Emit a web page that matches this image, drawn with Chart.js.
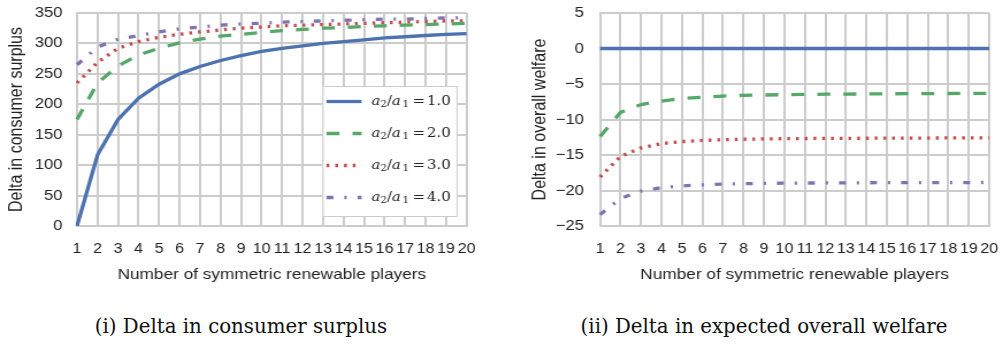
<!DOCTYPE html>
<html>
<head>
<meta charset="utf-8">
<script src="https://cdn.jsdelivr.net/npm/chart.js@4"></script>
<style>
  html, body { margin: 0; padding: 0; background: #fff; }
  body { width: 1004px; height: 345px; position: relative; overflow: hidden; }
  /* the source figure is stretched sideways, so the charts are too */
  .box { position: absolute; top: 0; transform: scaleX(1.15); transform-origin: 0 0; }
  .box canvas { display: block; }
  .caption { position: absolute; top: 315px; line-height: 24px; font-family: "DejaVu Serif", serif; font-size: 19.8px; color: #111; white-space: nowrap; transform: translateX(-50%); }
</style>
</head>
<body>
<div class="box" style="left:0"><canvas id="csChart" width="417" height="290"></canvas></div>
<div class="box" style="left:520px"><canvas id="owChart" width="421" height="290"></canvas></div>
<div class="caption" style="left:241px">(i) Delta in consumer surplus</div>
<div class="caption" style="left:764px">(ii) Delta in expected overall welfare</div>
<script>
const players = [1, 2, 3, 4, 5, 6, 7, 8, 9, 10, 11, 12, 13, 14, 15, 16, 17, 18, 19, 20];
const ratios = ["1.0", "2.0", "3.0", "4.0"];

// delta in consumer surplus
const cs1 = [0, 117, 175, 210, 233, 250, 262, 272, 280, 287, 292, 296, 300, 303, 306, 309, 311, 313, 315, 316];
const cs2 = [175, 235, 263, 281, 292, 301, 307, 312, 315, 318, 321, 323, 325, 326, 328, 329, 330, 331, 332, 333];
const cs3 = [235, 269, 292, 303, 310, 315, 319, 322, 325, 327, 329, 330, 331, 332, 333, 334, 335, 336, 337, 337];
const cs4 = [265, 294, 307, 313, 319, 324, 327, 330, 332, 333, 335, 336, 337, 338, 339, 340, 340, 341, 342, 342];

// delta in overall welfare
const ow1 = [0, 0, 0, 0, 0, 0, 0, 0, 0, 0, 0, 0, 0, 0, 0, 0, 0, 0, 0, 0];
const ow2 = [-12.4, -9.0, -7.9, -7.4, -7.05, -6.85, -6.7, -6.6, -6.55, -6.5, -6.47, -6.44, -6.42, -6.4, -6.38, -6.36, -6.35, -6.34, -6.33, -6.32];
const ow3 = [-18.1, -15.2, -14.0, -13.4, -13.1, -12.95, -12.85, -12.78, -12.73, -12.7, -12.68, -12.66, -12.65, -12.64, -12.63, -12.62, -12.61, -12.6, -12.6, -12.6];
const ow4 = [-23.4, -21.1, -20.1, -19.6, -19.35, -19.2, -19.1, -19.05, -19.0, -18.97, -18.95, -18.93, -18.92, -18.91, -18.9, -18.9, -18.89, -18.88, -18.88, -18.87];

const colors = ["#4c72b0", "#55a868", "#c44e52", "#8172b2"];
const dashes = [[], [11.3, 11.3], [2.5, 5.1], [6, 9.5, 2, 9.5]];
const gridColor = "#cccccc";
const textColor = "#222222";

function makeDatasets(series) {
    return series.map((vals, i) => ({
        label: "a2/a1 = " + ratios[i],
        data: vals,
        borderColor: colors[i],
        borderWidth: 3.3,
        borderDash: dashes[i],
        borderCapStyle: "butt",
        pointRadius: 0,
        tension: 0,
        fill: false
    }));
}

// legend drawn inside the plot, like the matplotlib one
const innerLegend = {
    id: "innerLegend",
    afterDraw(chart) {
        if (!chart.options.plugins.innerLegend.show) return;
        const ctx = chart.ctx;
        const area = chart.chartArea;
        const w = 117.5, h = 131;
        const bx = area.right - 7.8 - w, by = area.bottom - 9 - h;
        ctx.save();
        ctx.fillStyle = "#fff";
        ctx.strokeStyle = "#cccccc";
        ctx.lineWidth = 1;
        ctx.fillRect(bx, by, w, h);
        ctx.strokeRect(bx + 0.5, by + 0.5, w - 1, h - 1);
        chart.data.datasets.forEach((ds, i) => {
            const y = by + 15.5 + i * 32;
            ctx.beginPath();
            ctx.setLineDash(ds.borderDash);
            ctx.lineCap = "butt";
            ctx.strokeStyle = ds.borderColor;
            ctx.lineWidth = 3.3;
            ctx.moveTo(bx + 3.5, y);
            ctx.lineTo(bx + 34, y);
            ctx.stroke();
            ctx.setLineDash([]);
            drawRatio(ctx, bx + 42.6, y, ratios[i]);
        });
        ctx.restore();
    }
};

function drawRatio(ctx, x, y, val) {
    const big = '13px "DejaVu Serif"';
    const bigIt = 'italic 13px "DejaVu Serif"';
    const small = '9px "DejaVu Serif"';
    ctx.fillStyle = "#222";
    ctx.textBaseline = "middle";
    ctx.textAlign = "left";
    const parts = [
        [bigIt, "a", 0, 0], [small, "2", 3, 0], [big, "/", 0, 0],
        [bigIt, "a", 0, 0], [small, "1", 3, 1.5], [big, "=", 0, 1.5], [big, val, 0, 0]
    ];
    let cx = x;
    parts.forEach(([font, txt, dy, gap]) => {
        ctx.font = font;
        cx += gap;
        ctx.fillText(txt, cx, y + dy);
        cx += ctx.measureText(txt).width + gap;
    });
}

function makeChart(id, series, yMin, yMax, yStep, yTitle, yWidth, yPad, titlePad, rightPad, legend) {
    const ctx = document.getElementById(id).getContext("2d");
    return new Chart(ctx, {
        type: "line",
        data: { labels: players, datasets: makeDatasets(series) },
        options: {
            responsive: false,
            devicePixelRatio: 1,
            animation: false,
            layout: { padding: { top: 13, right: rightPad, left: 0, bottom: 0 } },
            plugins: {
                legend: { display: false },
                tooltip: { enabled: false },
                innerLegend: { show: legend }
            },
            scales: {
                x: {
                    grid: { color: gridColor, lineWidth: 2, drawTicks: false },
                    border: { color: gridColor, width: 2 },
                    ticks: {
                        autoSkip: false, maxRotation: 0, padding: 15,
                        color: textColor, font: { family: "Liberation Sans", size: 14 }
                    },
                    title: {
                        display: true, text: "Number of symmetric renewable players",
                        color: textColor, font: { family: "Liberation Sans", size: 15 },
                        padding: { top: 0, bottom: 6.5 }
                    },
                    // fixed size, and no extra room for the edge labels
                    afterFit(scale) {
                        scale.height = 64;
                        scale.paddingLeft = 0;
                        scale.paddingRight = 0;
                    }
                },
                y: {
                    min: yMin, max: yMax,
                    grid: { color: gridColor, lineWidth: 2, drawTicks: false },
                    border: { color: gridColor, width: 2 },
                    ticks: {
                        stepSize: yStep, padding: yPad,
                        color: textColor, font: { family: "Liberation Sans", size: 14.5 },
                        callback: (v) => String(v).replace("-", "\u2212")
                    },
                    title: {
                        display: true, text: yTitle,
                        color: textColor, font: { family: "Liberation Sans", size: 16 },
                        padding: { top: titlePad, bottom: 0 }
                    },
                    afterFit(scale) {
                        scale.width = yWidth;
                        scale.paddingTop = 0;
                        scale.paddingBottom = 0;
                    }
                }
            }
        },
        plugins: [innerLegend]
    });
}

makeChart("csChart", [cs1, cs2, cs3, cs4], 0, 350, 50, "Delta in consumer surplus", 67, 12.6, 5.2, 11.3, true);
makeChart("owChart", [ow1, ow2, ow3, ow4], -25, 5, 5, "Delta in overall welfare", 69.6, 14, 7.8, 13, false);
</script>
</body>
</html>
